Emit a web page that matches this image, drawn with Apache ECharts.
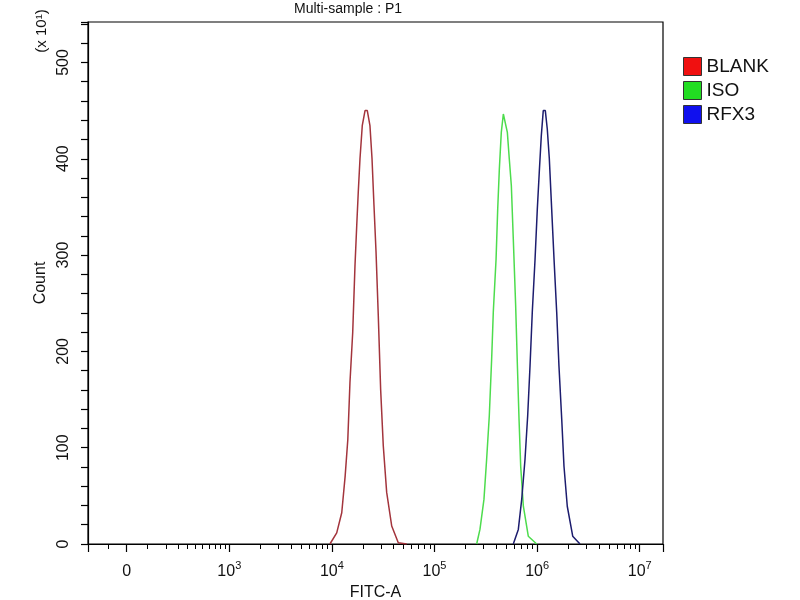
<!DOCTYPE html>
<html>
<head>
<meta charset="utf-8">
<title>Multi-sample : P1</title>
<script src="https://cdn.jsdelivr.net/npm/echarts@6/dist/echarts.min.js"></script>
<style>
  html, body { margin: 0; padding: 0; background: #fff; }
  #chart { width: 800px; height: 600px; }
</style>
</head>
<body>
<div id="chart"></div>
<script>
// x positions are log10(FITC-A); the logicle "0" sits one decade below 10^3 (at 2)
const blankX = [3.981, 4.047, 4.096, 4.129, 4.155, 4.176, 4.203, 4.225, 4.242, 4.257, 4.274, 4.296, 4.323, 4.345,
  4.371, 4.391, 4.410, 4.430, 4.452, 4.475, 4.501, 4.534, 4.583, 4.647, 4.729];
const blankY = [0, 11.6, 32.4, 70.2, 108.3, 167.5, 219.8, 288.8, 330.4, 365.3, 400.3, 434.3, 450, 450,
  434.3, 400.3, 351.9, 303.8, 237.6, 160.8, 101.8, 53.6, 18.7, 1.2, 0];

const isoX = [5.411, 5.443, 5.482, 5.508, 5.534, 5.557, 5.573, 5.600, 5.616, 5.632, 5.651, 5.671, 5.690,
  5.710, 5.729, 5.749, 5.768, 5.791, 5.807, 5.824, 5.840, 5.866, 5.914, 5.996];
const isoY = [0, 15.1, 46.3, 87.8, 132.9, 192.1, 240.6, 295.7, 347.7, 389.3, 427.4, 446.5, 446.5,
  427.4, 399.7, 372, 316.6, 247.3, 188.4, 129.2, 80.7, 39.2, 8.1, 0];

const rfx3X = [5.768, 5.817, 5.850, 5.882, 5.908, 5.931, 5.953, 5.980, 6.002, 6.021, 6.041, 6.060, 6.080,
  6.099, 6.119, 6.142, 6.165, 6.191, 6.213, 6.240, 6.262, 6.294, 6.347, 6.418];
const rfx3Y = [0, 15.1, 46.3, 87.8, 132.9, 184.9, 240.6, 295.7, 347.7, 385.8, 424, 450, 450,
  431.2, 400.3, 347.7, 295.7, 240.6, 184.9, 129.5, 80.7, 39.2, 8.1, 0];

const seriesNames = ['BLANK', 'ISO', 'RFX3'];
const lineColors = ['#a3343c', '#4ddc4d', '#1c1c6e'];
const legendColors = ['#f01010', '#22dd22', '#1010ee'];

const xMin = 1.623;
const xMax = 7.227;
const majorTicks = [2, 3, 4, 5, 6, 7];
// ticks in the linear part of the axis
const linearTicks = [1.821, 2.20, 2.383, 2.50, 2.593, 2.673, 2.74, 2.80, 2.86, 2.91, 2.96];
const decades = [3, 4, 5, 6];
const yMax = 542;

const minorTicks = linearTicks.slice();
decades.forEach(function (k) {
  for (let m = 2; m <= 9; m++) minorTicks.push(k + Math.log10(m));
});

function pairs(xs, ys) {
  return xs.map(function (x, i) { return [x, ys[i]]; });
}

const font = 'Liberation Sans, Arial, sans-serif';
const chart = echarts.init(document.getElementById('chart'));

chart.setOption({
  animation: false,
  backgroundColor: '#fff',
  textStyle: { fontFamily: font },
  title: {
    text: 'Multi-sample : P1',
    left: 289,
    top: -3,
    textStyle: { fontSize: 14, fontWeight: 'normal', color: '#111', fontFamily: font }
  },
  legend: {
    orient: 'vertical',
    left: 678,
    top: 52,
    icon: 'rect',
    itemWidth: 18,
    itemHeight: 18,
    itemGap: 5,
    selectedMode: false,
    textStyle: { fontSize: 19, color: '#111', lineHeight: 18, fontFamily: font },
    data: seriesNames.map(function (n, i) {
      return { name: n, itemStyle: { color: legendColors[i], borderColor: '#333', borderWidth: 1 } };
    })
  },
  grid: {
    left: 88, right: 137, top: 22, bottom: 56,
    outerBoundsMode: 'none',
    containLabel: false,
    show: true, borderColor: '#000', borderWidth: 1.2, backgroundColor: '#fff'
  },
  xAxis: [{
    type: 'value',
    min: xMin,
    max: xMax,
    name: 'FITC-A',
    nameLocation: 'middle',
    nameGap: 41,
    nameTextStyle: { fontSize: 16, color: '#111', fontFamily: font },
    axisLine: { onZero: false, lineStyle: { color: '#000', width: 1.2 } },
    axisTick: { length: 8, lineStyle: { color: '#000', width: 1.2 }, customValues: [xMin].concat(majorTicks, [xMax]) },
    axisLabel: {
      customValues: majorTicks,
      margin: 16,
      color: '#111',
      fontSize: 16,
      fontFamily: font,
      formatter: function (v) {
        return Math.abs(v - 2) < 1e-6 ? '{b|0}' : '{b|10}{s|' + Math.round(v) + '}';
      },
      rich: {
        b: { fontSize: 16, fontFamily: font, color: '#111', lineHeight: 20, verticalAlign: 'bottom' },
        s: { fontSize: 11, fontFamily: font, color: '#111', lineHeight: 20, verticalAlign: 'top' }
      }
    },
    splitLine: { show: false }
  }, {
    type: 'value',
    min: xMin,
    max: xMax,
    position: 'bottom',
    axisLine: { show: false, onZero: false },
    axisTick: { length: 5, lineStyle: { color: '#000', width: 1 }, customValues: minorTicks },
    axisLabel: { show: false },
    splitLine: { show: false }
  }],
  yAxis: {
    type: 'value',
    min: 0,
    max: yMax,
    interval: 20,
    name: 'Count',
    nameLocation: 'middle',
    nameGap: 39,
    nameTextStyle: { fontSize: 16, color: '#111', fontFamily: font },
    axisLine: { lineStyle: { color: '#000', width: 1.2 } },
    axisTick: { length: 7, lineStyle: { color: '#000', width: 1.2 } },
    axisLabel: {
      rotate: 90,
      margin: 16,
      color: '#111',
      fontSize: 16,
      fontFamily: font,
      formatter: function (v) { return v % 100 === 0 ? String(v) : ''; }
    },
    splitLine: { show: false }
  },
  graphic: [{
    type: 'text',
    x: 42,
    y: 31,
    rotation: Math.PI / 2,
    style: {
      text: '(x 10\u00B9)',
      fontSize: 15,
      fontFamily: font,
      fill: '#111',
      align: 'center',
      verticalAlign: 'middle'
    }
  }],
  series: [
    { name: 'BLANK', type: 'line', data: pairs(blankX, blankY) },
    { name: 'ISO', type: 'line', data: pairs(isoX, isoY) },
    { name: 'RFX3', type: 'line', data: pairs(rfx3X, rfx3Y) }
  ].map(function (s, i) {
    return Object.assign(s, {
      xAxisIndex: 0,
      showSymbol: false,
      symbol: 'none',
      smooth: false,
      itemStyle: { color: legendColors[i] },
      lineStyle: { color: lineColors[i], width: 1.5 }
    });
  })
});
</script>
</body>
</html>
